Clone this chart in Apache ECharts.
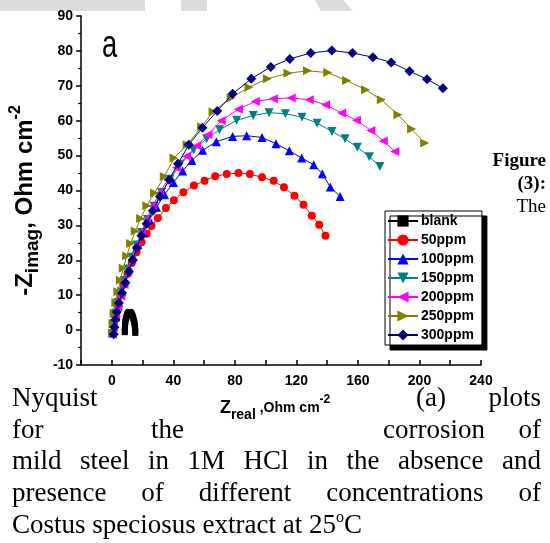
<!DOCTYPE html>
<html>
<head>
<meta charset="utf-8">
<script src="https://cdn.jsdelivr.net/npm/echarts@6/dist/echarts.min.js"></script>
<style>
  html, body { margin: 0; padding: 0; background: #fff; }
  #chart { width: 550px; height: 543px; }
</style>
</head>
<body>
<div id="chart"></div>
<script>
// Nyquist data: [Z_real, -Z_imag] in Ohm cm^-2
const seriesNames = ['blank', '50ppm', '100ppm', '150ppm', '200ppm', '250ppm', '300ppm'];

const blank = [[8.4,-0.6],[8.4,0.0],[8.5,0.6],[8.5,1.2],[8.6,1.8],[8.8,2.4],[9.0,3.0],[9.3,3.5],[9.6,4.0],[9.9,4.4],[10.2,4.7],[10.6,5.0],[11.0,5.1],[11.4,5.2],[11.8,5.2],[12.2,5.0],[12.6,4.8],[12.9,4.5],[13.3,4.2],[13.6,3.8],[13.9,3.4],[14.2,2.9],[14.5,2.4],[14.7,1.9],[14.9,1.4],[15.0,0.9],[15.1,0.4],[15.2,-0.2],[15.2,-0.8]];

const ppm50 = [[0.3,-1.0],[1.0,1.5],[2.1,4.2],[3.6,7.0],[5.4,10.0],[7.6,13.0],[10.1,16.1],[12.9,19.2],[16.0,22.3],[19.3,25.2],[22.6,27.6],[25.8,29.8],[29.9,32.1],[35.1,35.0],[40.3,37.2],[46.5,39.5],[53.3,41.4],[60.3,42.8],[67.2,44.1],[74.7,44.7],[82.3,45.0],[89.7,44.7],[97.6,43.8],[105.2,42.8],[111.9,40.9],[118.7,38.5],[124.6,35.9],[130.0,32.8],[134.8,30.2],[138.9,27.0]];

const ppm100 = [[0.6,-0.8],[1.5,2.0],[2.8,5.0],[4.4,8.0],[6.3,11.1],[8.5,14.3],[11.0,17.6],[13.8,21.0],[16.9,24.5],[20.4,28.0],[24.4,31.6],[29.0,35.2],[34.2,38.8],[40.0,42.3],[46.0,45.6],[52.0,48.6],[59.0,51.5],[67.9,54.0],[78.5,55.5],[87.6,55.7],[97.6,55.2],[106.7,53.4],[115.4,51.4],[123.4,49.3],[131.2,47.4],[136.8,44.8],[142.0,41.0],[148.4,38.3]];

const ppm150 = [[0.5,-1.0],[1.3,1.8],[2.5,4.8],[4.0,7.9],[5.9,11.0],[8.0,14.2],[10.4,17.5],[13.0,20.9],[16.0,24.4],[19.3,28.0],[23.1,31.7],[27.4,35.5],[32.3,39.4],[37.8,43.2],[44.5,47.5],[53.1,51.6],[61.6,54.8],[70.0,57.4],[81.1,60.1],[91.9,61.5],[102.2,62.3],[112.8,62.0],[123.6,61.0],[133.5,59.3],[143.1,56.9],[151.6,54.8],[159.6,52.4],[167.4,49.7],[174.2,46.9]];

const ppm200 = [[0.3,-1.2],[1.0,0.8],[2.3,3.6],[3.9,6.6],[5.8,9.8],[7.9,13.1],[10.3,16.6],[12.9,20.2],[15.8,24.0],[19.0,27.8],[22.5,31.6],[26.5,35.5],[31.0,39.3],[36.2,43.0],[42.0,46.5],[48.5,49.8],[55.2,52.8],[62.5,56.0],[71.1,60.0],[82.3,63.3],[93.3,65.5],[105.0,66.3],[116.6,66.5],[128.3,66.0],[138.9,64.6],[149.4,62.2],[159.0,60.1],[168.4,57.2],[176.5,54.2],[183.9,51.2]];

const ppm250 = [[0.3,-0.8],[0.7,1.8],[1.5,4.8],[2.6,7.9],[3.9,11.0],[5.5,14.3],[7.4,17.7],[9.6,21.2],[12.2,24.8],[15.2,28.4],[18.7,32.0],[22.7,35.6],[27.7,39.3],[34.1,44.0],[40.4,49.3],[48.9,53.1],[58.4,58.3],[65.8,62.6],[77.5,66.5],[89.1,69.6],[101.1,72.0],[114.5,73.6],[127.2,74.3],[140.3,73.8],[152.6,71.5],[164.9,68.9],[175.2,66.0],[186.0,61.7],[194.9,57.6],[203.4,53.6]];

const ppm300 = [[1.2,-1.2],[1.6,0.8],[2.3,3.0],[3.2,5.2],[4.6,7.8],[6.6,10.6],[8.8,13.6],[11.0,16.8],[13.5,20.1],[16.2,23.5],[19.2,27.0],[22.6,30.5],[26.7,34.2],[31.3,38.3],[37.3,43.1],[43.0,47.7],[50.0,53.1],[58.9,58.0],[68.5,62.8],[78.5,67.7],[90.6,72.0],[103.3,75.4],[115.7,77.7],[129.3,79.4],[143.0,80.1],[156.4,79.4],[169.7,78.2],[181.6,76.7],[193.5,74.2],[204.9,71.9],[215.2,69.3]];

const xTicks = { min: -20, max: 240, step: 20, labelStep: 40 };
const yTicks = { min: -10, max: 90, step: 10 };

const SANS = '"Liberation Sans", Arial, sans-serif';
const SERIF = '"Liberation Serif", "Times New Roman", serif';

const styles = [
  { color: '#000000', symbol: 'rect',     size: 6, rotate: 0 },
  { color: '#ff0000', symbol: 'circle',   size: 8, rotate: 0 },
  { color: '#0000ff', symbol: 'triangle', size: 9, rotate: 0 },
  { color: '#008080', symbol: 'triangle', size: 9, rotate: 180 },
  { color: '#ff00ff', symbol: 'triangle', size: 9, rotate: 90 },
  { color: '#808000', symbol: 'triangle', size: 9, rotate: -90 },
  { color: '#000080', symbol: 'diamond',  size: 10, rotate: 0 }
];
const dataSets = [blank, ppm50, ppm100, ppm150, ppm200, ppm250, ppm300];

const series = seriesNames.map((name, i) => ({
  name,
  type: 'line',
  data: dataSets[i],
  symbol: styles[i].symbol,
  symbolSize: styles[i].size,
  symbolRotate: styles[i].rotate,
  showAllSymbol: true,
  lineStyle: { color: styles[i].color, width: 1 },
  itemStyle: { color: styles[i].color, borderWidth: 0 },
  emphasis: { disabled: true },
  z: 2 + i
}));

// caption text, measured so the justified lines span the column
const measureCtx = document.createElement('canvas').getContext('2d');
function wordsAt(words, xs, y, font, aligns) {
  return words.map((w, i) => ({
    type: 'text', silent: true,
    style: { text: w, x: xs[i], y, font, fill: '#000', align: aligns ? aligns[i] : 'left', verticalAlign: 'middle' }
  }));
}
function justified(words, left, right, y, font) {
  measureCtx.font = font;
  const widths = words.map(w => measureCtx.measureText(w).width);
  const total = widths.reduce((a, b) => a + b, 0);
  const gap = (right - left - total) / (words.length - 1);
  const xs = [];
  let x = left;
  widths.forEach(w => { xs.push(x); x += w + gap; });
  return wordsAt(words, xs, y, font);
}

const capFont = '27px ' + SERIF;
const sideFontB = 'bold 19px ' + SERIF;
const sideFont = '19px ' + SERIF;

const graphics = [
  // page header strip
  { type: 'rect', silent: true, shape: { x: 0, y: 0, width: 145, height: 11 }, style: { fill: '#dcdcdc' } },
  { type: 'rect', silent: true, shape: { x: 181, y: 0, width: 26, height: 11 }, style: { fill: '#dcdcdc' } },
  { type: 'polygon', silent: true, shape: { points: [[315, 0], [343, 0], [353, 11], [321, 11]] }, style: { fill: '#dcdcdc' } },
  // panel letter
  { type: 'text', silent: true, x: 102, y: 66, scaleX: 0.72,
    style: { text: 'a', font: '38px ' + SANS, fill: '#000', verticalAlign: 'bottom' } },
  // side text
  ...wordsAt(['Figure'], [546], 161, sideFontB, ['right']),
  ...wordsAt(['(3):'], [546], 184, sideFontB, ['right']),
  ...wordsAt(['The'], [546], 207, sideFont, ['right']),
  // caption
  ...wordsAt(['Nyquist', '(a)', 'plots'], [12, 416, 541], 399, capFont, ['left', 'left', 'right']),
  ...wordsAt(['for', 'the', 'corrosion', 'of'], [12, 151, 383, 541], 431, capFont, ['left', 'left', 'left', 'right']),
  ...justified(['mild', 'steel', 'in', '1M', 'HCl', 'in', 'the', 'absence', 'and'], 12, 541, 462, capFont),
  ...justified(['presence', 'of', 'different', 'concentrations', 'of'], 12, 541, 494, capFont),
  { type: 'text', silent: true,
    style: { text: '{n|Costus speciosus extract at 25}{s|o}{n|C}', x: 12, y: 526, verticalAlign: 'middle',
      rich: { n: { font: capFont, fill: '#000', lineHeight: 32, verticalAlign: 'middle' },
              s: { font: '16px ' + SERIF, fill: '#000', lineHeight: 15, verticalAlign: 'top' } } } }
];

const chart = echarts.init(document.getElementById('chart'), null, { renderer: 'canvas' });
chart.setOption({
  animation: false,
  backgroundColor: '#ffffff',
  grid: { left: 72, right: 69, top: 16, bottom: 178, containLabel: false },
  legend: {
    data: seriesNames,
    orient: 'vertical',
    left: 385, top: 211,
    itemWidth: 30, itemHeight: 14, itemGap: 5,
    padding: [3, 8, 3, 2],
    backgroundColor: '#ffffff',
    borderColor: '#000', borderWidth: 1, borderRadius: 0,
    shadowColor: '#000', shadowBlur: 0, shadowOffsetX: 5, shadowOffsetY: 5,
    textStyle: { color: '#000', fontWeight: 'bold', fontSize: 14, fontFamily: SANS, padding: [0, 0, 0, -2] },
    selectedMode: false
  },
  xAxis: {
    type: 'value', min: xTicks.min, max: xTicks.max, interval: xTicks.step,
    axisLine: { onZero: false, lineStyle: { color: '#000', width: 1.5 } },
    axisTick: { inside: true, length: 5, lineStyle: { color: '#000', width: 1.5 } },
    axisLabel: {
      formatter: v => (v >= 0 && v % xTicks.labelStep === 0) ? String(v) : '',
      color: '#000', fontWeight: 'bold', fontSize: 14, fontFamily: SANS, margin: 9
    },
    splitLine: { show: false },
    name: '{z|Z}{sub|real}{t| ,Ohm cm}{sup|-2}',
    nameLocation: 'middle', nameGap: 29,
    nameTextStyle: {
      padding: [0, 12, 0, 0],
      rich: {
        z:   { fontSize: 18, fontWeight: 'bold', fontFamily: SANS, color: '#000', lineHeight: 28, verticalAlign: 'middle' },
        sub: { fontSize: 14, fontWeight: 'bold', fontFamily: SANS, color: '#000', lineHeight: 13, verticalAlign: 'bottom' },
        t:   { fontSize: 14, fontWeight: 'bold', fontFamily: SANS, color: '#000', lineHeight: 28, verticalAlign: 'middle' },
        sup: { fontSize: 12, fontWeight: 'bold', fontFamily: SANS, color: '#000', lineHeight: 13, verticalAlign: 'top' }
      }
    }
  },
  yAxis: {
    type: 'value', min: yTicks.min, max: yTicks.max, interval: yTicks.step,
    axisLine: { show: true, onZero: false, lineStyle: { color: '#000', width: 1.5 } },
    axisTick: { show: true, length: 5, lineStyle: { color: '#000', width: 1.5 } },
    minorTick: { show: true, splitNumber: 2, length: 3, lineStyle: { color: '#000', width: 1.2 } },
    axisLabel: { color: '#000', fontWeight: 'bold', fontSize: 14, fontFamily: SANS, margin: 8 },
    splitLine: { show: false },
    name: '{z|-Z}{sub|imag}{t|, Ohm cm}{sup|-2}',
    nameLocation: 'middle', nameRotate: 90, nameGap: 26,
    nameTextStyle: {
      padding: [0, 20, 0, 0],
      rich: {
        z:   { fontSize: 24, fontWeight: 'bold', fontFamily: SANS, color: '#000', lineHeight: 34, verticalAlign: 'middle' },
        sub: { fontSize: 19, fontWeight: 'bold', fontFamily: SANS, color: '#000', lineHeight: 18, verticalAlign: 'bottom' },
        t:   { fontSize: 24, fontWeight: 'bold', fontFamily: SANS, color: '#000', lineHeight: 34, verticalAlign: 'middle' },
        sup: { fontSize: 16, fontWeight: 'bold', fontFamily: SANS, color: '#000', lineHeight: 16, verticalAlign: 'top' }
      }
    }
  },
  series,
  graphic: graphics
});
</script>
</body>
</html>
